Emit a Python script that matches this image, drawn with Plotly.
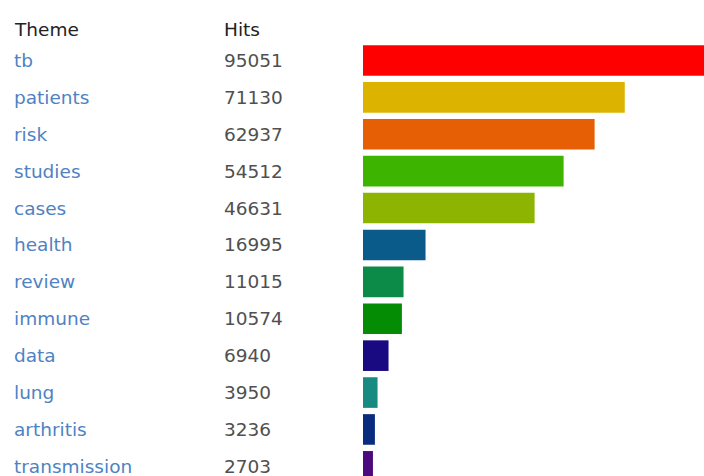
import plotly.graph_objects as go

themes = ["tb", "patients", "risk", "studies", "cases", "health", "review",
          "immune", "data", "lung", "arthritis", "transmission"]
hits = [95051, 71130, 62937, 54512, 46631, 16995, 11015, 10574, 6940, 3950, 3236, 2703]
colors = ["#ff0000", "#dcb400", "#e65f05", "#3cb400", "#8cb400", "#0a5a8a",
          "#0c8a48", "#058c05", "#1a0a82", "#178a82", "#0a2c7e", "#4b0a7e"]
headers = ["Theme", "Hits"]

W, H = 704, 476
L = 363
T = 42
row = 36.9
plot_h = H - T
y_max = -0.5 + plot_h / row

fig = go.Figure(go.Bar(
    x=hits, y=list(range(len(themes))), orientation="h",
    marker=dict(color=colors, line=dict(width=0)),
    hoverinfo="skip",
))

def px_to_paper(px):
    return (px - L) / (W - L)

font_family = "DejaVu Sans"
fs = 18.5
anns = []
for i, (t, h) in enumerate(zip(themes, hits)):
    anns.append(dict(x=px_to_paper(12), xref="paper", y=i, yref="y", text=t,
                     showarrow=False, xanchor="left", yanchor="middle",
                     font=dict(family=font_family, size=fs, color="#4f82c2")))
    anns.append(dict(x=px_to_paper(222), xref="paper", y=i, yref="y", text=str(h),
                     showarrow=False, xanchor="left", yanchor="middle",
                     font=dict(family=font_family, size=fs, color="#505050")))
hdr_y = 1 + (T - 30) / plot_h
anns.append(dict(x=px_to_paper(12), xref="paper", y=hdr_y, yref="paper", text=headers[0],
                 showarrow=False, xanchor="left", yanchor="middle",
                 font=dict(family=font_family, size=fs, color="#222222")))
anns.append(dict(x=px_to_paper(222), xref="paper", y=hdr_y, yref="paper", text=headers[1],
                 showarrow=False, xanchor="left", yanchor="middle",
                 font=dict(family=font_family, size=fs, color="#222222")))

fig.update_layout(
    width=W, height=H,
    margin=dict(l=L, r=0, t=T, b=0, pad=0),
    paper_bgcolor="white", plot_bgcolor="white",
    bargap=0.17,
    showlegend=False,
    xaxis=dict(range=[0, 92660], visible=False, fixedrange=True),
    yaxis=dict(range=[y_max, -0.5], visible=False, fixedrange=True),
    annotations=anns,
)

fig.write_html("out.html", config={"displayModeBar": False})
